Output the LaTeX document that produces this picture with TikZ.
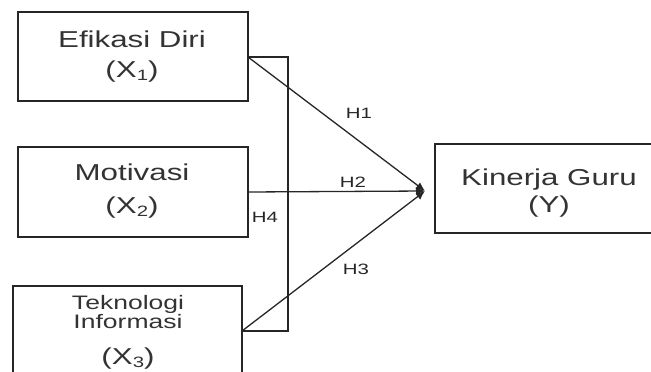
\documentclass[tikz,border=0pt]{standalone}
\usepackage{fontspec}
\setmainfont[Ligatures=CommonOff]{Liberation Sans}
\usepackage{graphicx}
\usetikzlibrary{arrows.meta}
\newcommand{\sxx}[1]{\scalebox{1.36}[1]{#1}}
\newcommand{\sbx}[1]{\raisebox{-0.3ex}{\fontsize{15}{15}\selectfont #1}}
\tikzset{
  box/.style={draw=black!85, line width=1.3pt, rectangle, inner sep=0pt},
  big/.style={anchor=base, inner sep=0pt, text=black!80, font=\fontsize{23}{27}\selectfont},
  small/.style={anchor=base, inner sep=0pt, text=black!80, font=\fontsize{19.5}{22}\selectfont},
  hlab/.style={anchor=base, inner sep=0pt, text=black!85, font=\fontsize{15}{18}\selectfont},
  link/.style={draw=black!85, line width=1.3pt},
  arr/.style={link, -{Latex[length=9pt,width=8pt]}}
}
\begin{document}
\begin{tikzpicture}[x=1pt,y=-1pt]
\useasboundingbox (0,0) rectangle (651,372);
\clip (0,0) rectangle (651,372);
% boxes
\node[box, minimum width=230pt, minimum height=89pt] (x1) at (133,56.5) {};
\node[box, minimum width=230pt, minimum height=90pt] (x2) at (133,192) {};
\node[box, minimum width=229pt, minimum height=100pt] (x3) at (127.5,336) {};
\node[box, minimum width=230pt, minimum height=89pt] (y) at (550,188.5) {};
% texts
\node[big] (x1a) at (132,47) {\sxx{Ef\kern0ptikasi Diri}};
\node[big] (x1b) at (132,77) {\sxx{(X\sbx{1})}};
\node[big] (x2a) at (132,180) {\sxx{Motivasi}};
\node[big] (x2b) at (132,213) {\sxx{(X\sbx{2})}};
\node[small] (x3a) at (128,309) {\sxx{Teknologi}};
\node[small] (x3b) at (128,328) {\sxx{Informasi}};
\node[big] (x3c) at (128,364) {\sxx{(X\sbx{3})}};
\node[big] (ya) at (549,185) {\sxx{Kinerja Guru}};
\node[big] (yb) at (549,212) {\sxx{(Y)}};
% connection points
\coordinate (p1) at (248,57);
\coordinate (p2) at (248,192);
\coordinate (p3) at (242,331);
\coordinate (b1) at (288,57);
\coordinate (b3) at (288,331);
\coordinate (tip) at (425,191);
% bracket H4
\draw[link] (p1) -- (b1) -- (b3) -- (p3);
% arrows
\draw[arr] (p1) -- (tip);
\draw[arr] (p2) -- (tip);
\draw[arr] (p3) -- (tip);
% labels
\node[hlab] (h1) at (359,118) {\sxx{H1}};
\node[hlab] (h2) at (353,187) {\sxx{H2}};
\node[hlab] (h3) at (356,274) {\sxx{H3}};
\node[hlab] (h4) at (265,222) {\sxx{H4}};
\end{tikzpicture}
\end{document}
